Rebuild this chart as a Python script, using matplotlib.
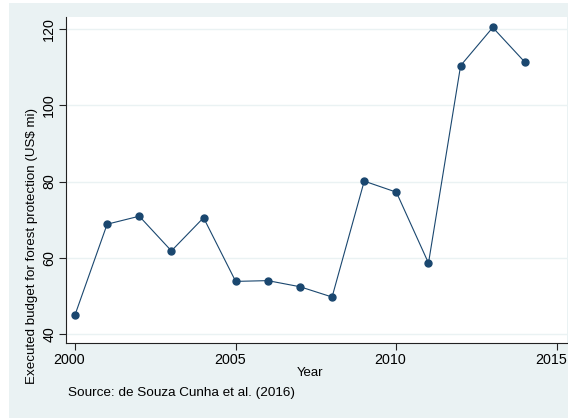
import matplotlib.pyplot as plt
import matplotlib.transforms as mtransforms
from matplotlib.patches import Rectangle

plt.rcParams['font.family'] = ['Liberation Sans', 'DejaVu Sans']

# Data
years = [2000, 2001, 2002, 2003, 2004, 2005, 2006, 2007,
         2008, 2009, 2010, 2011, 2012, 2013, 2014]
budget = [45.0, 68.8, 70.9, 61.8, 70.5, 53.8, 54.0, 52.4,
          49.7, 80.1, 77.2, 58.6, 110.4, 120.4, 111.3]
x_ticks = [2000, 2005, 2010, 2015]
y_ticks = [40, 60, 80, 100, 120]

bg = '#eaf2f3'
navy = '#1a476f'

fig = plt.figure(figsize=(5.68, 4.18), dpi=100, facecolor=bg)
# thin white margin at left and top, like the screenshot
fig.patches.append(Rectangle((0, 0), 9 / 568, 1, transform=fig.transFigure,
                             facecolor='white', edgecolor='none', zorder=-1))
fig.patches.append(Rectangle((0, 1 - 3 / 418), 1, 3 / 418, transform=fig.transFigure,
                             facecolor='white', edgecolor='none', zorder=-1))

ax = fig.add_axes([66 / 568, 75 / 418, 501 / 568, 326 / 418])
ax.set_facecolor('white')

ax.plot(years, budget, color=navy, lw=0.8, marker='o', markersize=5,
        markerfacecolor=navy, markeredgecolor=navy, zorder=3)

ax.set_xlim(1999.72, 2015.31)
ax.set_ylim(37.64, 123.15)
ax.set_xticks(x_ticks)
ax.set_yticks(y_ticks)
ax.grid(axis='y', color=bg, lw=1)
ax.set_axisbelow(True)

for s in ['top', 'right']:
    ax.spines[s].set_visible(False)
for s in ['left', 'bottom']:
    ax.spines[s].set_color('#222222')
    ax.spines[s].set_linewidth(0.8)

ax.tick_params(axis='both', direction='out', length=5, width=0.8,
               color='#222222', labelsize=10.3, pad=2)
plt.setp(ax.get_yticklabels(), rotation=90, va='center')

# year labels sit a little left of their ticks in the original
shift = mtransforms.ScaledTranslation(-0.06, 0, fig.dpi_scale_trans)
for lbl in ax.get_xticklabels():
    lbl.set_transform(lbl.get_transform() + shift)

year_txt = fig.text(310 / 568, 1 - 373 / 418, 'Year', ha='center', va='center', fontsize=10)
ylab = fig.text(32 / 568, 1 - 246 / 418, 'Executed budget for forest protection (US$ mi)',
                rotation=90, ha='center', va='center', fontsize=10)
src = fig.text(68 / 568, 1 - 393 / 418, 'Source: de Souza Cunha et al. (2016)',
               ha='left', va='center', fontsize=10)

# size the texts to the lengths measured on the reference (pixels)
renderer = fig.canvas.get_renderer()
for t, target, vertical in [(year_txt, 27, False), (ylab, 278, True), (src, 227, False)]:
    bb = t.get_window_extent(renderer)
    length = bb.height if vertical else bb.width
    t.set_fontsize(10 * target / length)

fig.savefig('out.png', dpi=100, facecolor=fig.get_facecolor())
